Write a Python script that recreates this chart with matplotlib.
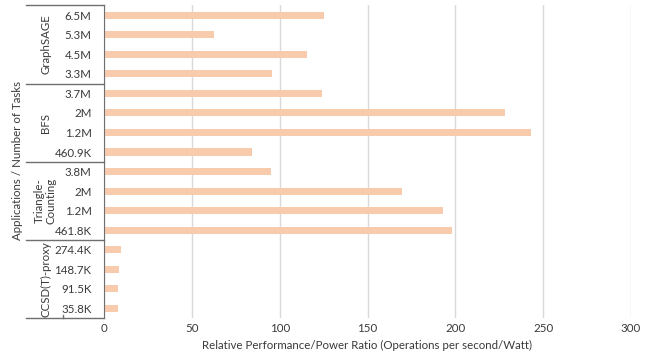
import numpy as np
import matplotlib.pyplot as plt
from matplotlib.transforms import blended_transform_factory

plt.rcParams['font.family'] = ['Lato', 'DejaVu Sans']

# applications, top to bottom, each with four task counts
apps = ["GraphSAGE", "BFS", "Triangle-\nCounting", "CCSD(T)-proxy"]
tasks = [
    ["6.5M", "5.3M", "4.5M", "3.3M"],
    ["3.7M", "2M", "1.2M", "460.9K"],
    ["3.8M", "2M", "1.2M", "461.8K"],
    ["274.4K", "148.7K", "91.5K", "35.8K"],
]
ratio = [
    [125.1, 62.7, 115.3, 95.6],
    [124.3, 228.3, 243.2, 84.0],
    [95.2, 169.7, 193.0, 198.1],
    [9.7, 8.8, 8.0, 7.7],
]

labels = [t for grp in tasks for t in grp]
values = [v for grp in ratio for v in grp]
n = len(labels)
ypos = np.arange(n)[::-1]  # first entry sits at the top

txt = '#3a3a3a'
line = '#6f6f6f'
fs = 8.3

fig = plt.figure(figsize=(6.52, 3.58), dpi=100)
ax = fig.add_axes([104 / 652, 1 - 318.3 / 358, 527 / 652, 313 / 358])

ax.barh(ypos, values, height=0.36, color='#F8CBAD', zorder=3)

ax.set_xlim(0, 300)
ax.set_ylim(-0.5, n - 0.5)
ax.set_xticks(np.arange(0, 301, 50))
ax.grid(axis='x', color='#d9d9d9', linewidth=1, zorder=0)
ax.set_yticks(ypos)
ax.set_yticklabels(labels)
ax.tick_params(axis='y', length=0, pad=9, labelsize=fs, labelcolor=txt)
ax.tick_params(axis='x', length=0, pad=3.5, labelsize=fs, labelcolor=txt)
for s in ['top', 'right', 'bottom']:
    ax.spines[s].set_visible(False)
ax.spines['left'].set_color(line)
ax.spines['left'].set_zorder(4)

ax.set_xlabel('Relative Performance/Power Ratio (Operations per second/Watt)',
              fontsize=fs, color=txt, labelpad=4)

# two-level category axis: group boxes and rotated group names
tr = blended_transform_factory(ax.transAxes, ax.transData)
x_out = (26 - 104) / 527
x_mid = (63 - 104) / 527
for k in range(len(apps) + 1):
    yb = n - 0.5 - 4 * k
    ax.plot([x_out, 0], [yb, yb], color=line, lw=1, transform=tr, clip_on=False)
ax.plot([x_mid, x_mid], [-0.5, -0.35], color=line, lw=1, transform=tr, clip_on=False)

x_grp = (45.5 - 104) / 527
for k, name in enumerate(apps):
    yc = n - 1 - 4 * k - 1.5
    ax.text(x_grp, yc, name, transform=tr, rotation=90, ha='center', va='center',
            fontsize=fs, color=txt, linespacing=1.1, multialignment='center')

fig.text(18 / 652, 1 - 160 / 358, 'Applications / Number of Tasks', rotation=90,
         ha='center', va='center', fontsize=fs, color=txt)

fig.savefig('out.png', dpi=100)
